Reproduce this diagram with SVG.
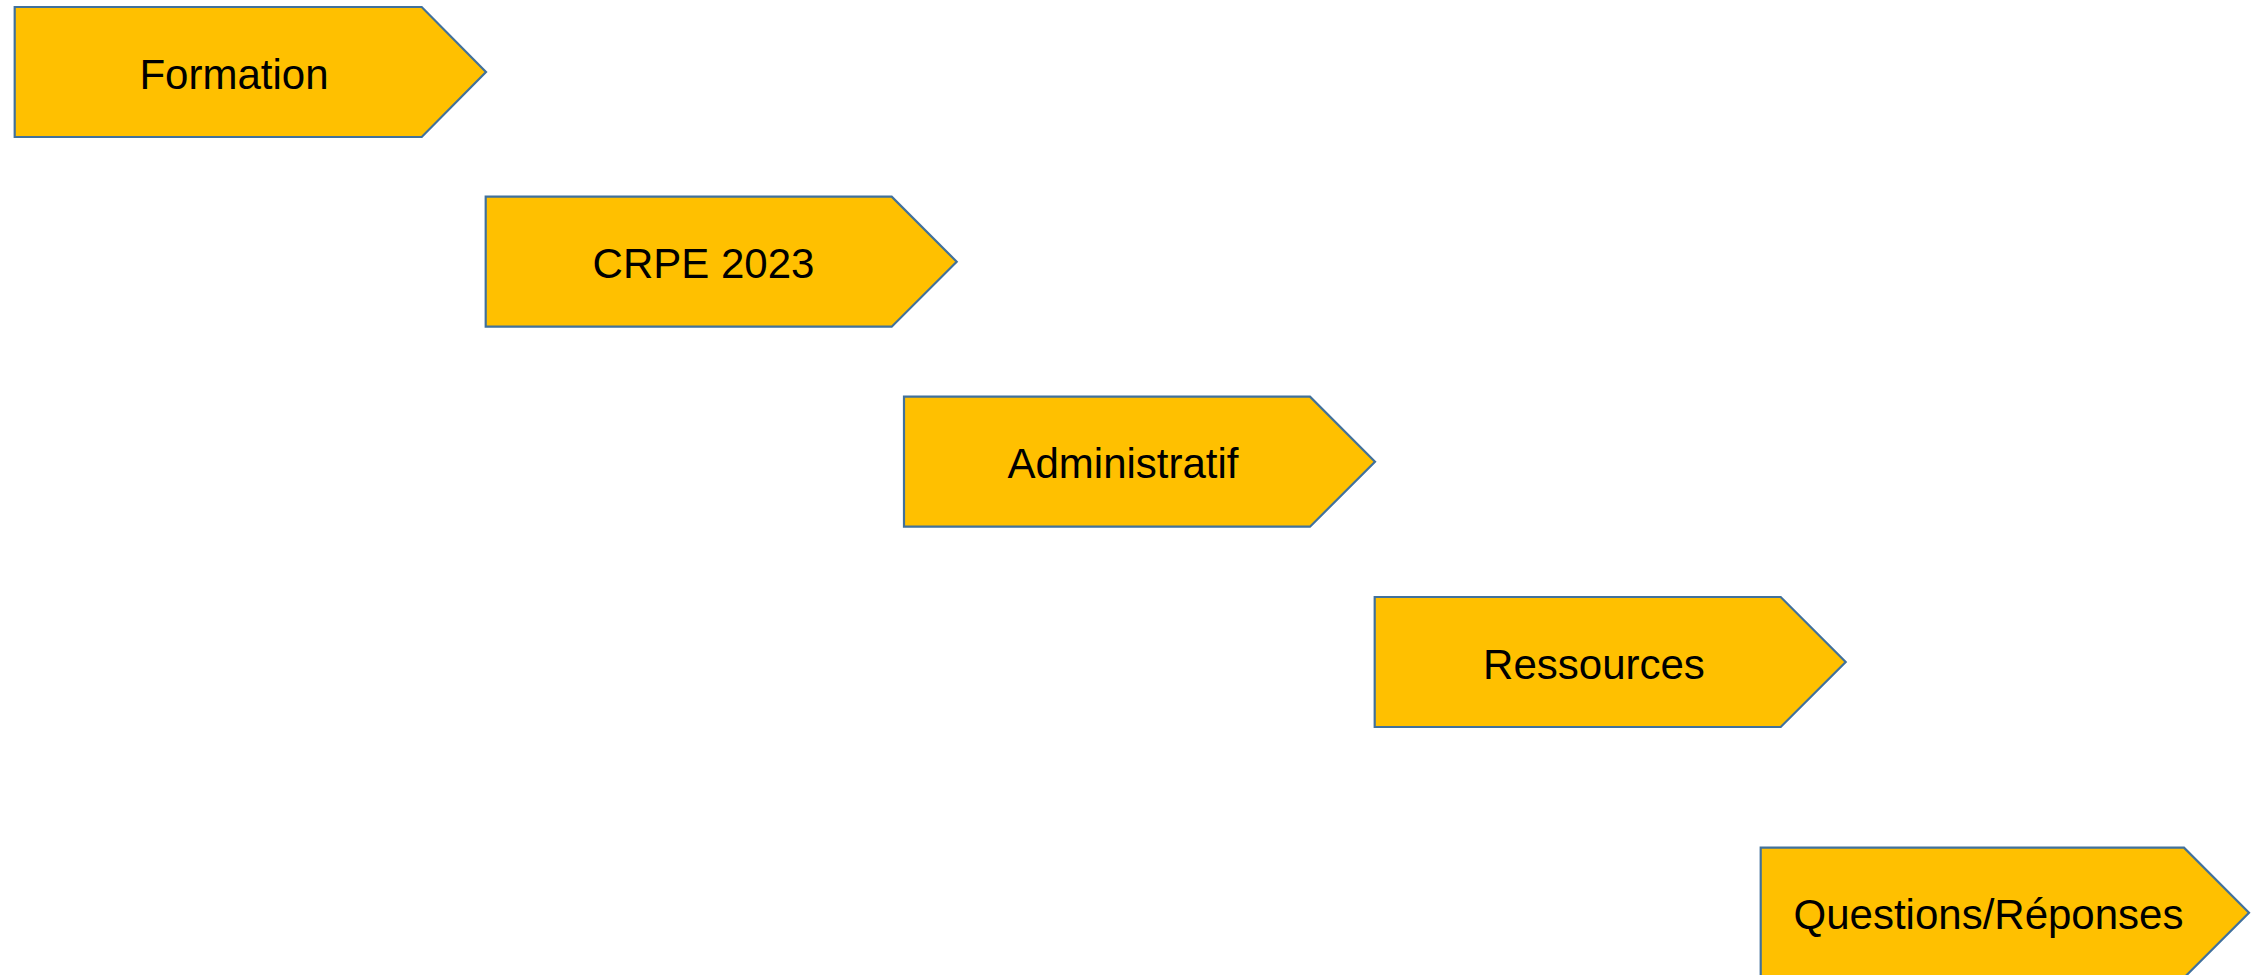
<svg xmlns="http://www.w3.org/2000/svg" width="2251" height="975" viewBox="0 0 2251 975">
<style>
.shape{fill:#FFC000;stroke:#41719C;stroke-width:2.2;stroke-linejoin:miter}
.lbl{font-family:"Liberation Sans",Arial,sans-serif;font-size:42px;fill:#000;text-anchor:middle}
</style>
<rect width="2251" height="975" fill="#fff"/>
<g id="node-formation">
<polygon class="shape" points="14.7,7 421.7,7 486,72 421.7,137 14.7,137"/>
<text class="lbl" x="234" y="89">Formation</text>
</g>
<g id="node-crpe">
<polygon class="shape" points="485.7,196.7 891.7,196.7 956.7,261.7 891.7,326.7 485.7,326.7"/>
<text class="lbl" x="703.5" y="278.3">CRPE 2023</text>
</g>
<g id="node-administratif">
<polygon class="shape" points="904,396.7 1310,396.7 1375,461.7 1310,526.7 904,526.7"/>
<text class="lbl" x="1123" y="478.3">Administratif</text>
</g>
<g id="node-ressources">
<polygon class="shape" points="1374.7,597 1780.7,597 1845.7,662 1780.7,727 1374.7,727"/>
<text class="lbl" x="1594" y="679">Ressources</text>
</g>
<g id="node-questions">
<polygon class="shape" points="1760.7,847.7 2184,847.7 2249,912.7 2184,977.7 1760.7,977.7"/>
<text class="lbl" x="1988.5" y="929">Questions/Réponses</text>
</g>
<g id="connectors"></g>
</svg>
